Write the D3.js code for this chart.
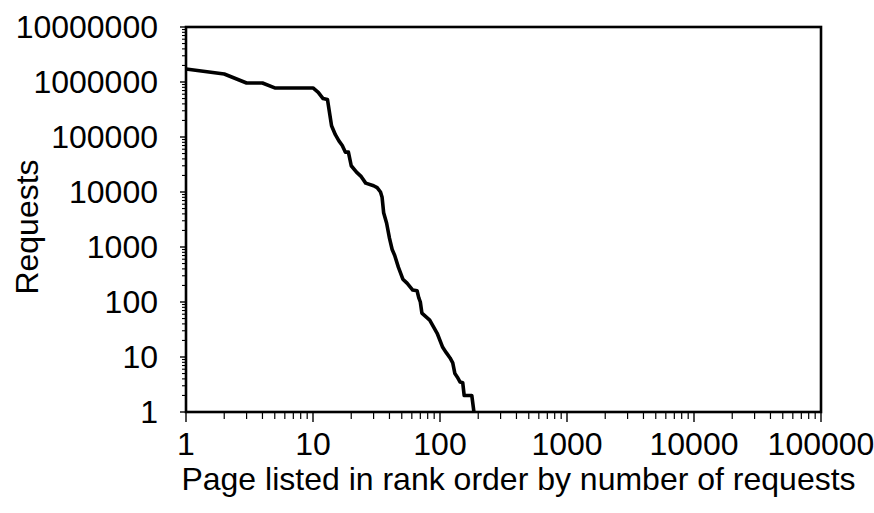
<!DOCTYPE html>
<html><head><meta charset="utf-8">
<script src="https://cdn.jsdelivr.net/npm/d3@7"></script>
<style>body{margin:0;background:#fff}svg{display:block}text{font-family:"Liberation Sans",Arial,sans-serif;fill:#000}</style>
</head><body><svg id="c" width="874" height="513"></svg>
<script>
const ranks = [1,2,3,4,5,10,11,12,13,14,15,16,17,18,19,20,22,24,26,30,32,34,35,36,38,40,42,44,47,51,55,61,66,68,70,72,83,95,105,112,120,126,131,137,144,151,155,178,185];
const requests = [1720000,1400000,960000,960000,780000,780000,650000,500000,480000,160000,110000,85000,70000,53000,53000,30000,23000,19000,14500,13000,12000,10000,8000,4200,2700,1450,900,700,430,260,220,165,160,120,100,63,47,27,15,12,9.6,7.8,5,4.3,3.5,3.4,2,2,1];
const xTickValues = [1,10,100,1000,10000,100000];
const xTickLabels = ["1","10","100","1000","10000","100000"];
const yTickValues = [1,10,100,1000,10000,100000,1000000,10000000];
const yTickLabels = ["1","10","100","1000","10000","100000","1000000","10000000"];
const xTitle = "Page listed in rank order by number of requests";
const yTitle = "Requests";

const svg = d3.select("#c");
const L=186,R=821,T=27,B=412;
const FS=32;
const x = d3.scaleLog().domain([1,100000]).range([L,R]);
const y = d3.scaleLog().domain([1,10000000]).range([B,T]);

const xMinor=[], yMinor=[];
for(let d=1; d<100000; d*=10) for(let k=2;k<=9;k++) xMinor.push(d*k);
for(let d=1; d<10000000; d*=10) for(let k=2;k<=9;k++) yMinor.push(d*k);

const g = svg.append("g");
g.selectAll(".xm").data(xMinor).join("line")
 .attr("x1",d=>x(d)).attr("x2",d=>x(d)).attr("y1",B).attr("y2",B+7)
 .attr("stroke","#000").attr("stroke-width",1.2);
g.selectAll(".xM").data(xTickValues).join("line")
 .attr("x1",d=>x(d)).attr("x2",d=>x(d)).attr("y1",B).attr("y2",B+10)
 .attr("stroke","#000").attr("stroke-width",1.4);
g.selectAll(".ym").data(yMinor).join("line")
 .attr("y1",d=>y(d)).attr("y2",d=>y(d)).attr("x1",L).attr("x2",L-4)
 .attr("stroke","#000").attr("stroke-width",1.1);
g.selectAll(".yM").data(yTickValues).join("line")
 .attr("y1",d=>y(d)).attr("y2",d=>y(d)).attr("x1",L).attr("x2",L-6)
 .attr("stroke","#000").attr("stroke-width",1.4);

g.selectAll(".xl").data(xTickValues).join("text")
 .attr("x",d=>x(d)).attr("y",455).attr("text-anchor","middle")
 .attr("font-size",FS).text((d,i)=>xTickLabels[i]);
g.selectAll(".yl").data(yTickValues).join("text")
 .attr("x",158).attr("y",d=>y(d)+11).attr("text-anchor","end")
 .attr("font-size",FS).text((d,i)=>yTickLabels[i]);

svg.append("text").attr("x",(L+R)/2+15).attr("y",490).attr("text-anchor","middle")
 .attr("font-size",FS).text(xTitle);
svg.append("text").attr("transform","translate(38,227) rotate(-90)").attr("text-anchor","middle")
 .attr("font-size",FS).text(yTitle);

svg.append("rect").attr("x",L).attr("y",T).attr("width",R-L).attr("height",B-T)
 .attr("fill","none").attr("stroke","#000").attr("stroke-width",2.6);

const pts = ranks.map((r,i)=>[r,requests[i]]);
svg.append("path").datum(pts)
 .attr("d",d3.line().x(d=>x(d[0])).y(d=>y(d[1])))
 .attr("fill","none").attr("stroke","#000").attr("stroke-width",3.6).attr("stroke-linejoin","round");
</script></body></html>
